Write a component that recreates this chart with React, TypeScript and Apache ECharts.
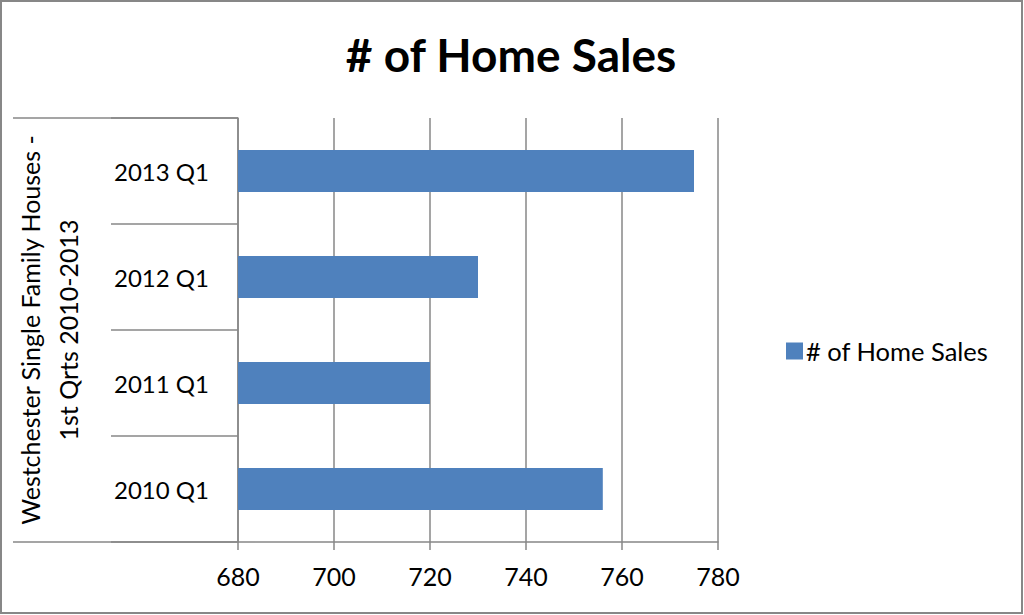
import { useEffect, useRef } from 'react';
import * as echarts from 'echarts';

// Westchester single family houses, 1st quarter sales
const categories = ['2010 Q1', '2011 Q1', '2012 Q1', '2013 Q1'];
const homeSales = [756, 720, 730, 775];
const seriesName = '# of Home Sales';

const FONT = 'Lato, "Open Sans", sans-serif';
const GRAY = '#878787';

const App = () => {
    const chartRef = useRef<HTMLDivElement>(null);

    useEffect(() => {
        if (!chartRef.current) return;
        const chart = echarts.init(chartRef.current, null, { renderer: 'svg' });

        chart.setOption({
            animation: false,
            backgroundColor: '#ffffff',
            title: {
                text: '# of Home Sales',
                left: 506,
                top: 26,
                textAlign: 'center',
                textStyle: { fontFamily: FONT, fontSize: 46, fontWeight: 'bold', color: '#000' }
            },
            legend: {
                data: [seriesName],
                left: 786,
                top: 338,
                padding: 0,
                itemWidth: 17,
                itemHeight: 17,
                itemGap: 4,
                icon: 'rect',
                textStyle: { fontFamily: FONT, fontSize: 25.5, color: '#000', padding: [0, 0, 0, -2] }
            },
            grid: { left: 238, right: 306, top: 118, bottom: 73 },
            xAxis: {
                type: 'value',
                min: 680,
                max: 780,
                interval: 20,
                axisLine: { show: true, lineStyle: { color: GRAY, width: 1.5 } },
                axisTick: { show: true, length: 8, lineStyle: { color: GRAY, width: 1.5 } },
                axisLabel: { fontFamily: FONT, fontSize: 25, color: '#000', margin: 21 },
                splitLine: { show: true, lineStyle: { color: GRAY, width: 1.5 } }
            },
            yAxis: {
                type: 'category',
                data: categories,
                name: 'Westchester Single Family Houses -\n1st Qrts 2010-2013',
                nameLocation: 'middle',
                nameRotate: 90,
                nameGap: 151,
                nameTextStyle: { fontFamily: FONT, fontSize: 25, color: '#000', lineHeight: 38 },
                axisLine: { show: true, lineStyle: { color: GRAY, width: 1.5 } },
                axisTick: { show: true, length: 127, lineStyle: { color: GRAY, width: 1.5 } },
                axisLabel: { fontFamily: FONT, fontSize: 24, color: '#000', margin: 29 },
                splitLine: { show: false }
            },
            series: [
                {
                    name: seriesName,
                    type: 'bar',
                    data: homeSales,
                    barWidth: 42,
                    itemStyle: { color: '#4f81bd' }
                }
            ],
            graphic: [
                {
                    type: 'rect',
                    shape: { x: 1, y: 1, width: 1021, height: 612 },
                    style: { fill: 'none', stroke: GRAY, lineWidth: 2 }
                },
                {
                    type: 'line',
                    shape: { x1: 13, y1: 118, x2: 238, y2: 118 },
                    style: { stroke: GRAY, lineWidth: 1.5 }
                },
                {
                    type: 'line',
                    shape: { x1: 13, y1: 542, x2: 238, y2: 542 },
                    style: { stroke: GRAY, lineWidth: 1.5 }
                }
            ]
        });

        return () => {
            chart.dispose();
        };
    }, []);

    return (
        <div
            ref={chartRef}
            style={{ position: 'absolute', left: 0, top: 0, width: 1024, height: 615 }}
        />
    );
};

export default App;
